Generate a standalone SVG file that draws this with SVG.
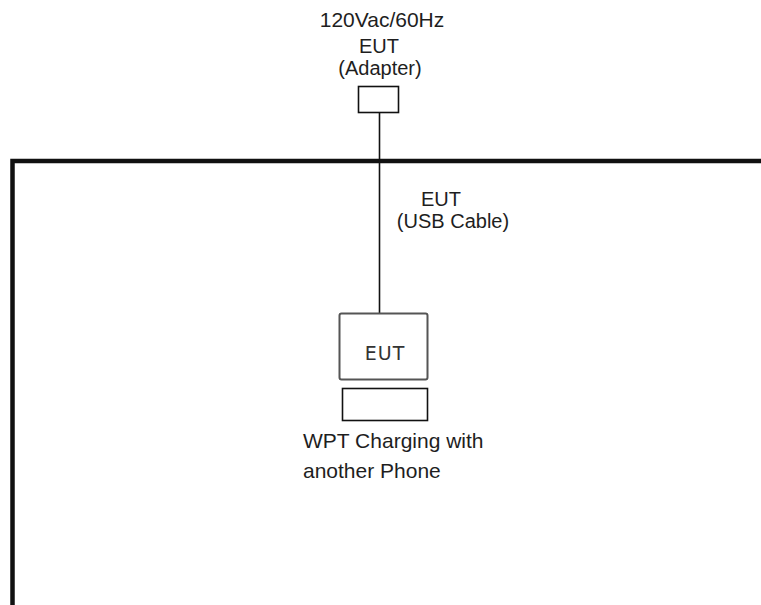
<svg xmlns="http://www.w3.org/2000/svg" width="761" height="605" viewBox="0 0 761 605">
<style>
text{font-family:"Liberation Sans",Arial,sans-serif;font-size:21px;fill:#1e1e1e}
.sm{font-size:20px}
.box{fill:#fff;stroke:#111;stroke-width:1.6}
</style>
<rect width="761" height="605" fill="#fff"/>
<g id="enclosure">
<path d="M12.5 605 V161 H761" fill="none" stroke="#111" stroke-width="4.5"/>
</g>
<g id="connectors">
<line x1="379.5" y1="113" x2="379.5" y2="313" stroke="#111" stroke-width="1.6"/>
</g>
<g id="supply">
<text x="382" y="27" text-anchor="middle">120Vac/60Hz</text>
</g>
<g id="adapter">
<text class="sm" x="379" y="53" text-anchor="middle">EUT</text>
<text class="sm" x="380" y="75" text-anchor="middle">(Adapter)</text>
<rect class="box" x="358.5" y="86.5" width="40" height="26"/>
</g>
<g id="cable-label">
<text class="sm" x="441" y="206" text-anchor="middle">EUT</text>
<text class="sm" x="453" y="228" text-anchor="middle">(USB Cable)</text>
</g>
<g id="eut">
<rect x="339.5" y="313.5" width="88" height="66" rx="2" fill="#fff" stroke="#555" stroke-width="2"/>
<text x="385" y="360" text-anchor="middle" style="font-family:'DejaVu Sans',Verdana,sans-serif;font-size:19px;fill:#333;letter-spacing:1px">EUT</text>
</g>
<g id="wpt">
<rect class="box" x="342.5" y="388.5" width="85" height="32"/>
<text x="303" y="448">WPT Charging with</text>
<text x="303" y="478">another Phone</text>
</g>
</svg>
